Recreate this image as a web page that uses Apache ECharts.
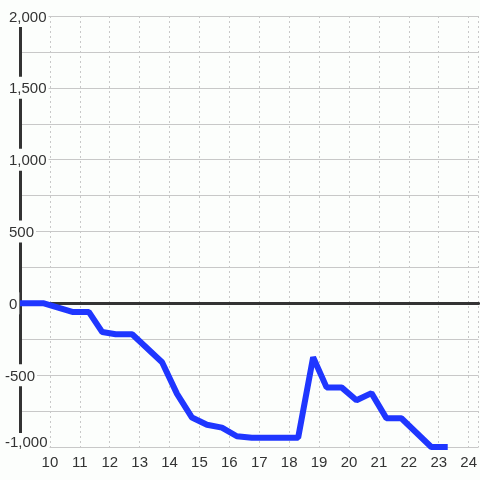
<!DOCTYPE html>
<html>
<head>
<meta charset="utf-8">
<script src="https://cdn.jsdelivr.net/npm/echarts@6/dist/echarts.min.js"></script>
<style>
  html, body { margin: 0; padding: 0; background: #fcfefc; }
  #chart { width: 480px; height: 480px; }
</style>
</head>
<body>
<div id="chart"></div>
<script>
// hour of day (x) and value (y)
var hours = [9.0, 9.8, 10.75, 11.3, 11.75, 12.2, 12.75, 13.75, 14.25, 14.75, 15.25, 15.75,
  16.25, 16.75, 18.3, 18.8, 19.25, 19.75, 20.25, 20.75, 21.25, 21.75, 22.75, 23.3]
var values = [0, 0, -60, -60, -200, -215, -215, -410, -630, -795, -845, -865,
  -925, -935, -935, -375, -585, -585, -675, -625, -800, -800, -1000, -1000]
var yLabels = [-1000, -500, 0, 500, 1000, 1500, 2000]

var points = hours.map(function (h, i) { return [h, values[i]] })

var chart = echarts.init(document.getElementById('chart'))
var textStyle = { color: '#333', fontFamily: 'Liberation Sans', fontSize: 15 }

chart.setOption({
  backgroundColor: '#fcfefc',
  animation: false,
  grid: { left: 20, right: 0, top: 16, bottom: 33 },
  xAxis: [{
    type: 'value',
    min: 9,
    max: 24.333,
    interval: 1,
    axisLine: { show: false, onZero: false },
    axisTick: { show: false },
    axisLabel: Object.assign({ showMinLabel: false, showMaxLabel: false, margin: 8 }, textStyle),
    splitLine: { show: true, lineStyle: { color: '#c8c8c8', type: [2, 3], width: 1 } }
  }, {
    // the dark line through zero
    type: 'value',
    position: 'bottom',
    min: 9,
    max: 24.333,
    axisLine: { show: true, onZero: true, lineStyle: { color: '#333', width: 3 } },
    axisTick: { show: false },
    axisLabel: { show: false },
    splitLine: { show: false }
  }],
  yAxis: {
    type: 'value',
    min: -1000,
    max: 2000,
    interval: 250,
    axisLine: { show: true, onZero: false, lineStyle: { color: '#333', width: 3 } },
    axisTick: { show: false },
    axisLabel: Object.assign({
      align: 'left',
      margin: 17,
      backgroundColor: '#fcfefc',
      padding: [2, 2],
      formatter: function (v) {
        if (yLabels.indexOf(v) < 0) return ''
        var s = v.toLocaleString('en-US')
        if (v === -1000) return '{bot|' + s + '}'
        return v < 0 ? '{neg|' + s + '}' : '{pos|' + s + '}'
      },
      rich: {
        pos: { color: '#333', fontFamily: 'Liberation Sans', fontSize: 15, padding: [3, 0, 0, 4] },
        neg: { color: '#333', fontFamily: 'Liberation Sans', fontSize: 15, padding: [3, 0, 0, 0] },
        bot: { color: '#333', fontFamily: 'Liberation Sans', fontSize: 15, padding: [0, 0, 9, 0] }
      }
    }, textStyle),
    splitLine: { show: true, lineStyle: { color: '#c8c8c8', width: 1 } }
  },
  series: [{
    type: 'line',
    xAxisIndex: 0,
    data: points,
    symbol: 'none',
    lineStyle: { color: '#1f36ff', width: 6 }
  }]
})
</script>
</body>
</html>
